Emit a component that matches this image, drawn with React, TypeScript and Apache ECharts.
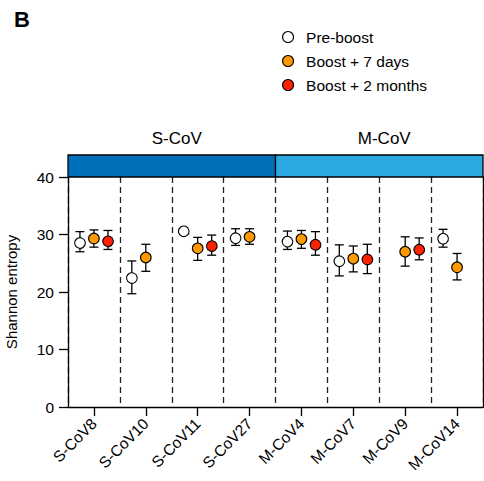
import React, { useEffect, useRef } from "react";
import * as echarts from "echarts";

const categories = ["S-CoV8", "S-CoV10", "S-CoV11", "S-CoV27", "M-CoV4", "M-CoV7", "M-CoV9", "M-CoV14"];
const yTicks = [0, 10, 20, 30, 40];

const preMean = [28.7, 22.6, 30.7, 29.5, 28.9, 25.5, null, 29.4];
const preLow = [27.0, 19.7, null, 28.1, 27.4, 22.8, null, 27.8];
const preHigh = [30.5, 25.4, null, 31.0, 30.6, 28.2, null, 30.9];

const d7Mean = [29.3, 26.0, 27.6, 29.6, 29.2, 25.8, 27.0, 24.3];
const d7Low = [27.8, 23.6, 25.5, 28.3, 27.6, 23.5, 24.5, 22.1];
const d7High = [30.8, 28.3, 29.5, 31.0, 30.7, 28.0, 29.6, 26.7];

const m2Mean = [29.0, null, 28.2, null, 28.4, 25.8, 27.5, null];
const m2Low = [27.4, null, 26.4, null, 26.4, 23.2, 25.6, null];
const m2High = [30.7, null, 29.9, null, 30.5, 28.3, 29.4, null];

const groupNames = ["S-CoV", "M-CoV"];
const groupStart = [0, 4];
const groupEnd = [3, 7];
const groupColors = ["#0070BA", "#2BA8E0"];

const FONT = "'Liberation Sans', Arial, Helvetica, sans-serif";

type Series = {
  name: string;
  color: string;
  offset: number;
  mean: (number | null)[];
  low: (number | null)[];
  high: (number | null)[];
};

const seriesDefs: Series[] = [
  { name: "Pre-boost", color: "#FFFFFF", offset: -0.27, mean: preMean, low: preLow, high: preHigh },
  { name: "Boost + 7 days", color: "#FF9900", offset: 0, mean: d7Mean, low: d7Low, high: d7High },
  { name: "Boost + 2 months", color: "#FF2200", offset: 0.27, mean: m2Mean, low: m2Low, high: m2High },
];

export default function App() {
  const ref = useRef<HTMLDivElement>(null);

  useEffect(() => {
    if (!ref.current) return;
    const chart = echarts.init(ref.current, undefined, { renderer: "svg" });

    const dataSeries = seriesDefs.map((s) => ({
      type: "custom",
      name: s.name,
      itemStyle: { color: s.color, borderColor: "#000", borderWidth: 1 },
      encode: { x: 0, y: 1 },
      z: 5,
      data: categories
        .map((_, i) => (s.mean[i] == null ? null : [i, s.mean[i]]))
        .filter((d) => d !== null),
      renderItem: (params: any, api: any) => {
        const i = api.value(0);
        const m = api.value(1);
        const bw = api.size([1, 0])[0];
        const p = api.coord([i, m]);
        const cx = p[0] + s.offset * bw;
        const cy = p[1];
        const children: any[] = [];
        const lo = s.low[i];
        const hi = s.high[i];
        const lineStyle = { stroke: "#000", lineWidth: 1.3 };
        if (lo != null && hi != null) {
          const yl = api.coord([i, lo])[1];
          const yh = api.coord([i, hi])[1];
          const cap = 4.5;
          children.push({ type: "line", shape: { x1: cx, y1: yl, x2: cx, y2: yh }, style: lineStyle });
          children.push({ type: "line", shape: { x1: cx - cap, y1: yl, x2: cx + cap, y2: yl }, style: lineStyle });
          children.push({ type: "line", shape: { x1: cx - cap, y1: yh, x2: cx + cap, y2: yh }, style: lineStyle });
        }
        children.push({
          type: "circle",
          shape: { cx, cy, r: 5.3 },
          style: { fill: s.color, stroke: "#000", lineWidth: 1.1 },
        });
        return { type: "group", children };
      },
    }));

    const bandSeries = {
      type: "custom",
      name: "groups",
      encode: { x: 0, y: 1 },
      silent: true,
      z: 6,
      data: groupNames.map((_, g) => [groupStart[g], 40]),
      renderItem: (params: any, api: any) => {
        const g = params.dataIndex;
        const bw = api.size([1, 0])[0];
        const x1 = api.coord([groupStart[g], 40])[0] - bw / 2;
        const x2 = api.coord([groupEnd[g], 40])[0] + bw / 2;
        const yTop = api.coord([groupStart[g], 40])[1];
        const h = 22;
        return {
          type: "group",
          children: [
            {
              type: "rect",
              shape: { x: x1, y: yTop - h, width: x2 - x1, height: h },
              style: { fill: groupColors[g], stroke: "#000", lineWidth: 1.3 },
            },
            {
              type: "text",
              x: (x1 + x2) / 2 + 5,
              y: yTop - h - 17,
              style: {
                text: groupNames[g],
                fontSize: 17,
                fontFamily: FONT,
                fill: "#000",
                align: "center",
                verticalAlign: "middle",
              },
            },
          ],
        };
      },
    };

    const option: any = {
      animation: false,
      textStyle: { fontFamily: FONT },
      grid: { left: 68, right: 1, top: 177, bottom: 74, containLabel: false, outerBoundsMode: "none" },
      legend: {
        orient: "vertical",
        left: 277,
        top: 24,
        itemWidth: 26,
        itemHeight: 11,
        itemGap: 8,
        textStyle: { fontSize: 15.5, color: "#000", fontFamily: FONT },
        data: seriesDefs.map((s) => ({
          name: s.name,
          icon: "circle",
          itemStyle: { color: s.color, borderColor: "#000", borderWidth: 1.1 },
        })),
        selectedMode: false,
      },
      graphic: [
        {
          type: "text",
          left: 14,
          top: 8,
          style: { text: "B", fontSize: 22, fontWeight: "bold", fontFamily: FONT, fill: "#000" },
        },
      ],
      xAxis: {
        type: "category",
        data: categories,
        boundaryGap: true,
        axisLine: { show: true, lineStyle: { color: "#000", width: 1.3 } },
        axisTick: { show: true, alignWithLabel: true, length: 9, lineStyle: { color: "#000", width: 1.3 } },
        axisLabel: { rotate: 45, fontSize: 15.5, color: "#000", margin: 14, fontFamily: FONT, interval: 0 },
        splitLine: {
          show: true,
          interval: 0,
          lineStyle: { color: "#222", width: 1.3, type: [6, 4] },
        },
      },
      yAxis: [
        {
          type: "value",
          min: yTicks[0],
          max: yTicks[yTicks.length - 1],
          interval: 10,
          name: "Shannon entropy",
          nameLocation: "middle",
          nameGap: 49,
          nameTextStyle: { fontSize: 15, color: "#000", fontFamily: FONT },
          axisLine: { show: true, lineStyle: { color: "#000", width: 1.3 } },
          axisTick: { show: true, length: 9, lineStyle: { color: "#000", width: 1.3 } },
          axisLabel: { fontSize: 15.5, color: "#000", margin: 14, fontFamily: FONT },
          splitLine: { show: false },
        },
        {
          type: "value",
          position: "right",
          min: 0,
          max: 40,
          interval: 10,
          axisLine: { show: true, lineStyle: { color: "#000", width: 1.3 } },
          axisTick: { show: false },
          axisLabel: { show: false },
          splitLine: { show: false },
        },
      ],
      series: [...dataSeries, bandSeries],
    };

    chart.setOption(option);
    return () => chart.dispose();
  }, []);

  return (
    <div
      ref={ref}
      style={{ position: "fixed", left: 0, top: 0, width: 484, height: 481, background: "#fff" }}
    />
  );
}
